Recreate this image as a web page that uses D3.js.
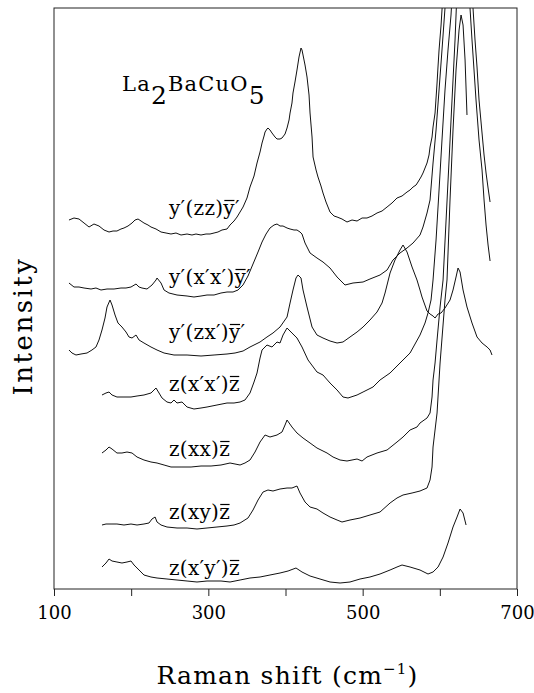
<!DOCTYPE html>
<html><head><meta charset="utf-8">
<script src="https://cdn.jsdelivr.net/npm/d3@7"></script>
<style>
html,body{margin:0;padding:0;background:#fff;}
svg{display:block;}
text{font-family:"DejaVu Serif","Liberation Serif",serif;fill:#000;}
</style></head>
<body><svg id="chart" width="534" height="693"></svg>
<script>
// Raman shift (cm^-1) vs intensity (arbitrary units, spectra offset vertically)
const xTicks = [100, 200, 300, 400, 500, 600, 700];
const xTickLabels = ["100", "", "300", "", "500", "", "700"];

const zz = [[119.4,370],[125.9,372],[132.4,371],[138.9,367],[145.4,363],[151.8,366],[158.3,364],[164.8,360],[171.3,358],[176.5,359],[181.6,359],[186.8,361],[190.7,362],[195.9,364],[201.1,367],[205.0,370],[208.9,371],[212.8,369],[216.6,367],[221.8,365],[225.7,363],[232.2,361],[238.7,358],[245.2,357],[251.6,356],[258.1,357],[264.6,355],[272.4,356],[278.8,355],[284.0,356],[290.5,355],[297.0,356],[302.2,356],[307.4,357],[312.5,358],[317.7,360],[324.2,361],[328.1,365],[333.3,369],[337.2,373],[341.1,378],[345.0,383],[350.1,392],[354.0,403],[359.2,414],[363.1,427],[367.0,438],[369.6,447],[372.2,454],[373.5,458],[376.0,461],[377.3,462],[379.9,460],[382.5,457],[386.4,453],[389.0,451],[392.9,451],[395.5,452],[399.4,456],[402.0,462],[404.6,470],[405.9,477],[408.4,487],[409.7,497],[412.3,508],[414.9,520],[417.5,533],[420.1,542],[421.4,540],[422.7,535],[425.3,525],[427.9,513],[430.5,495],[431.8,477],[434.4,453],[435.7,433],[439.6,420],[442.1,413],[446.0,404],[448.6,397],[452.5,388],[457.7,378],[462.9,374],[466.8,373],[473.2,371],[479.7,368],[486.2,370],[492.7,369],[499.2,372],[505.6,372],[512.1,374],[518.6,377],[525.1,379],[531.6,383],[538.0,387],[544.5,392],[551.0,394],[557.5,398],[561.4,400],[565.3,403],[569.2,405],[571.7,408],[575.6,413],[578.2,417],[580.8,422],[583.4,427],[586.0,435],[587.3,443],[589.9,453],[591.2,463],[593.8,477],[595.1,492],[596.4,507],[597.7,524],[599.0,540],[601.6,565],[602.8,580],[605.4,610],[622.3,760],[641.7,610],[643.0,582],[645.6,550],[648.2,523],[650.8,490],[654.7,457],[657.3,435],[659.9,417],[662.5,402],[665.1,388]];
const xpxp = [[119.4,307],[125.9,303],[132.4,303],[138.9,302],[148.0,301],[154.4,302],[160.9,300],[168.7,301],[177.8,301],[186.8,302],[193.3,302],[199.8,303],[206.3,306],[210.2,303],[214.0,302],[220.5,301],[227.0,305],[232.2,310],[233.5,312],[238.7,307],[242.6,300],[249.0,297],[259.4,295],[272.4,294],[281.4,293],[290.5,294],[298.3,295],[307.4,295],[316.4,297],[324.2,298],[332.0,298],[338.5,300],[344.9,305],[351.4,314],[357.9,326],[364.4,338],[369.6,348],[374.8,356],[379.9,362],[385.1,365],[389.0,366],[392.9,364],[396.8,364],[402.0,362],[405.9,361],[411.0,360],[414.9,360],[418.8,358],[421.4,356],[425.3,347],[431.8,337],[440.8,332],[448.6,328],[457.7,322],[466.8,313],[477.1,305],[487.5,307],[500.5,308],[509.5,311],[522.5,315],[531.6,320],[539.3,330],[548.4,337],[557.5,342],[565.3,347],[574.3,355],[578.2,363],[583.4,377],[587.3,390],[591.2,427],[595.1,460],[599.0,500],[602.8,540],[606.7,582],[609.3,615],[626.2,740],[638.0,615],[639.1,582],[641.7,550],[644.3,520],[646.9,490],[650.8,450],[654.7,420],[657.3,390],[659.9,365],[662.5,345],[665.1,329]];
const zxp = [[119.4,240],[123.3,237],[128.5,235],[135.0,236],[142.8,237],[149.2,240],[154.4,243],[158.3,250],[162.2,260],[166.1,272],[168.7,283],[172.6,290],[175.2,285],[179.1,275],[182.9,267],[188.1,263],[193.3,258],[197.2,253],[201.1,252],[206.3,255],[210.2,250],[216.6,247],[225.7,243],[233.5,240],[242.6,237],[255.5,235],[272.4,235],[290.5,234],[307.4,235],[324.2,236],[334.6,237],[345.0,239],[354.0,243],[367.0,248],[376.0,253],[383.8,257],[392.9,263],[402.0,273],[405.9,287],[409.7,300],[413.6,312],[416.2,315],[420.1,312],[422.7,300],[427.9,283],[434.4,263],[440.8,255],[448.6,252],[457.7,249],[466.8,247],[474.5,248],[483.6,253],[492.7,258],[500.5,263],[509.5,270],[518.6,278],[525.1,287],[529.0,297],[535.5,317],[541.9,330],[548.4,340],[552.3,345],[557.5,338],[564.0,323],[570.4,310],[574.3,300],[576.9,293],[583.4,279],[587.3,276],[591.2,274],[593.8,272],[597.7,276],[601.6,277],[606.7,282],[613.2,290],[617.1,300],[621.0,313],[623.6,322],[626.2,318],[630.1,300],[635.2,283],[641.7,267],[648.2,253],[654.7,247],[661.2,243],[665.1,240],[667.6,235]];
const zxpxp = [[162.2,195],[167.4,197],[171.3,198],[175.2,195],[181.6,193],[190.7,193],[199.8,193],[207.6,194],[216.6,195],[225.7,197],[229.6,200],[232.2,202],[236.1,197],[240.0,192],[246.4,188],[251.6,187],[255.5,190],[259.4,187],[265.9,188],[272.4,183],[281.4,181],[290.5,182],[298.3,183],[311.2,185],[324.2,187],[333.3,187],[341.1,188],[347.5,190],[354.0,197],[359.2,208],[363.1,217],[367.0,232],[369.6,240],[376.0,245],[382.5,243],[389.0,248],[392.9,247],[396.8,255],[402.0,262],[408.4,257],[414.9,252],[421.4,243],[429.2,230],[440.8,218],[448.6,215],[457.7,207],[466.8,200],[474.5,193],[481.0,192],[492.7,195],[500.5,198],[513.4,203],[522.5,210],[535.5,217],[548.4,227],[561.4,237],[574.3,255],[580.8,267],[584.7,277],[588.6,290],[591.2,310],[595.1,350],[599.0,400],[602.8,450],[606.7,500],[610.6,540],[614.5,575],[617.1,610],[623.6,690],[635.2,740]];
const zxx = [[162.2,137],[167.4,140],[171.3,143],[175.2,141],[181.6,137],[188.1,137],[194.6,138],[201.1,137],[207.6,133],[216.6,130],[225.7,128],[233.5,127],[242.6,125],[251.6,123],[264.6,123],[277.6,123],[290.5,124],[303.5,124],[316.4,125],[328.1,127],[341.1,125],[347.5,127],[354.0,130],[360.5,138],[367.0,148],[373.5,155],[379.9,153],[389.0,155],[395.5,158],[399.4,165],[402.0,170],[408.4,163],[414.9,157],[422.7,152],[431.8,147],[440.8,142],[453.8,137],[461.6,133],[470.7,130],[479.7,129],[492.7,131],[499.2,129],[505.6,133],[518.6,137],[531.6,140],[544.5,148],[552.3,153],[561.4,160],[570.4,163],[574.3,167],[583.4,172],[587.3,177],[589.9,193],[591.2,210],[593.8,227],[596.4,250],[600.3,283],[604.2,310],[608.1,370],[612.0,430],[615.8,490],[619.7,550],[622.3,600],[628.8,690],[635.2,740]];
const zxy = [[162.2,65],[167.4,66],[173.9,66],[181.6,66],[190.7,65],[199.8,66],[207.6,65],[216.6,66],[223.1,67],[227.0,71],[231.0,73],[233.5,68],[238.7,65],[246.4,63],[259.4,62],[272.4,62],[285.3,61],[298.3,62],[311.2,63],[324.2,64],[333.3,65],[341.1,67],[351.4,72],[357.9,80],[364.4,90],[370.9,98],[377.3,100],[383.8,99],[392.9,101],[402.0,102],[408.4,102],[414.9,104],[418.8,97],[425.3,88],[431.8,83],[440.8,81],[448.6,77],[457.7,73],[466.8,70],[473.2,68],[483.6,70],[496.6,72],[509.5,75],[522.5,78],[535.5,87],[544.5,92],[552.3,95],[564.0,97],[574.3,99],[583.4,102],[587.3,110],[589.9,123],[591.2,143],[596.4,177],[600.3,227],[606.7,290],[609.3,310],[613.2,390],[617.1,460],[621.0,520],[624.9,560],[627.5,575],[630.1,565],[632.7,530],[635.2,475]];
const zxpyp = [[162.2,23],[167.4,27],[171.3,31],[175.2,29],[181.6,28],[188.1,27],[194.6,28],[199.8,29],[203.7,25],[210.2,20],[216.6,15],[225.7,13],[233.5,12],[246.4,11],[259.4,10],[272.4,9],[285.3,8],[298.3,9],[316.4,9],[328.1,8],[341.1,10],[354.0,12],[367.0,13],[379.9,15],[392.9,17],[403.3,19],[413.6,22],[421.4,18],[431.8,14],[444.7,11],[457.7,8],[470.7,7],[483.6,8],[496.6,11],[509.5,13],[522.5,16],[535.5,20],[544.5,23],[551.0,25],[561.4,23],[574.3,20],[584.7,16],[591.2,18],[597.7,23],[604.2,33],[610.6,47],[617.1,63],[622.3,73],[626.2,81],[630.1,77],[634.0,65]];

const seriesData = [zz, xpxp, zxp, zxpxp, zxx, zxy, zxpyp];
// label parts: [text, overlined]
const seriesLabels = [
  [["y′(zz)",0],["y",1],["′",0]],
  [["y′(x′x′)",0],["y",1],["′",0]],
  [["y′(zx′)",0],["y",1],["′",0]],
  [["z(x′x′)",0],["z",1]],
  [["z(xx)",0],["z",1]],
  [["z(xy)",0],["z",1]],
  [["z(x′y′)",0],["z",1]]
];
const labelBaseInt = [375, 306, 251, 199, 134, 71, 15];

const W = 534, H = 693;
const m = {left:54, right:17, top:8, bottom:104};
const svg = d3.select("#chart");
const x = d3.scaleLinear().domain([100,700]).range([m.left, W-m.right]);
const y = d3.scaleLinear().domain([1,582]).range([H-m.bottom, m.top]);

svg.append("defs").append("clipPath").attr("id","clip")
  .append("rect").attr("x",m.left).attr("y",m.top)
  .attr("width",W-m.left-m.right).attr("height",H-m.top-m.bottom);

const line = d3.line().x(d=>x(d[0])).y(d=>y(d[1]));
svg.append("g").attr("clip-path","url(#clip)")
  .selectAll("path").data(seriesData).join("path")
  .attr("d",line).attr("fill","none").attr("stroke","#111")
  .attr("stroke-width",1).attr("stroke-linejoin","round");

// frame
svg.append("rect").attr("x",m.left).attr("y",m.top)
  .attr("width",W-m.left-m.right).attr("height",H-m.top-m.bottom)
  .attr("fill","none").attr("stroke","#222").attr("stroke-width",1);

const ax = d3.axisBottom(x).tickValues(xTicks).tickSize(7).tickPadding(10)
  .tickFormat((d,i)=>xTickLabels[i]);
const gx = svg.append("g").attr("transform",`translate(0,${H-m.bottom})`).call(ax);
gx.select(".domain").remove();
gx.selectAll(".tick line").attr("stroke","#222");
gx.selectAll(".tick text").style("font-size","18px").attr("fill","#000")
  .style("font-family","'DejaVu Serif',serif");

// axis titles
const xt = svg.append("text").attr("x",(m.left+W-m.right)/2 + 2).attr("y",684)
  .attr("text-anchor","middle").style("font-size","25px").style("letter-spacing","1.2px");
xt.append("tspan").text("Raman shift (cm");
xt.append("tspan").attr("dy",-10).style("font-size","15px").text("−1");
xt.append("tspan").attr("dy",10).text(")");

svg.append("text").attr("transform","translate(32,326) rotate(-90)")
  .attr("text-anchor","middle").style("font-size","26px").style("letter-spacing","2.5px")
  .text("Intensity");

// compound label
const ct = svg.append("text").attr("x",122).attr("y",91).style("font-size","21px").style("letter-spacing","1.2px");
ct.append("tspan").text("La");
ct.append("tspan").attr("dy",13).style("font-size","25px").text("2");
ct.append("tspan").attr("dy",-13).text("BaCuO");
ct.append("tspan").attr("dy",13).style("font-size","25px").text("5");

// series labels with manually drawn overbars
seriesLabels.forEach((parts,i)=>{
  const by = y(labelBaseInt[i]);
  const t = svg.append("text").attr("x",169).attr("y",by)
    .style("font-size","20px").style("letter-spacing","0.3px");
  let idx = 0;
  const bars = [];
  parts.forEach(p=>{
    t.append("tspan").text(p[0]);
    if (p[1]) bars.push([idx, p[0].length]);
    idx += p[0].length;
  });
  const node = t.node();
  bars.forEach(([s,len])=>{
    const x0 = node.getStartPositionOfChar(s).x;
    const x1 = node.getEndPositionOfChar(s+len-1).x;
    svg.append("line").attr("x1",x0+1).attr("x2",x1-0.5)
      .attr("y1",by-14.5).attr("y2",by-14.5)
      .attr("stroke","#000").attr("stroke-width",1.2);
  });
});
</script></body></html>
